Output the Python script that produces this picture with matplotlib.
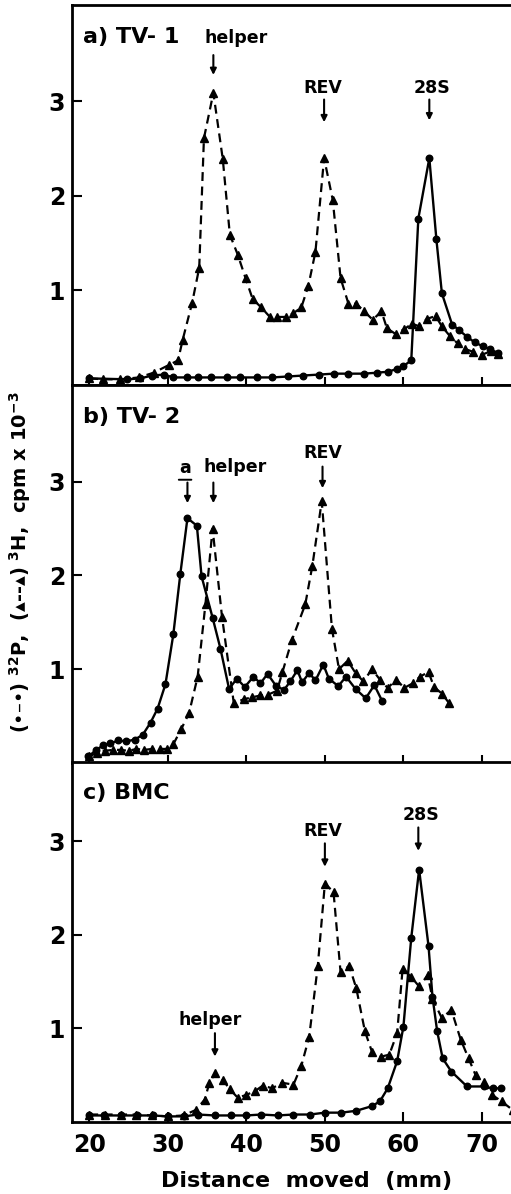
import matplotlib
matplotlib.use("Agg")
import matplotlib.pyplot as plt

plt.rcParams['font.family'] = ['DejaVu Sans']
plt.rcParams['font.weight'] = 'bold'
plt.rcParams['mathtext.default'] = 'bf'

# panel a) TV-1
a_h_x = [20.0, 21.8, 23.9, 26.3, 28.2, 30.1, 31.3, 31.9, 33.1, 34.0, 34.6, 35.8, 37.0, 37.9, 38.9,
         39.9, 40.8, 41.9, 43.0, 43.9, 45.0, 46.0, 47.0, 47.9, 48.8, 49.9, 51.0, 52.0, 53.0, 54.0,
         55.0, 56.1, 57.2, 57.9, 59.0, 60.1, 61.1, 62.0, 63.0, 64.1, 64.9, 65.9, 66.9, 67.9, 68.9,
         70.0, 71.2, 72.0]
a_h_y = [0.07, 0.06, 0.06, 0.08, 0.13, 0.21, 0.26, 0.48, 0.87, 1.24, 2.61, 3.09, 2.39, 1.59, 1.38,
         1.13, 0.91, 0.82, 0.72, 0.72, 0.72, 0.76, 0.82, 1.05, 1.41, 2.40, 1.96, 1.13, 0.86, 0.86,
         0.78, 0.69, 0.78, 0.60, 0.54, 0.59, 0.65, 0.62, 0.70, 0.73, 0.62, 0.52, 0.44, 0.38, 0.35,
         0.32, 0.36, 0.33]
a_p_x = [20.0, 24.8, 26.5, 28.0, 29.5, 30.7, 32.4, 33.9, 35.5, 37.5, 39.2, 41.4, 43.3, 45.3, 47.2,
         49.2, 51.1, 53.0, 55.0, 56.6, 58.0, 59.2, 60.0, 61.0, 61.9, 63.3, 64.2, 64.9, 66.2, 67.1,
         68.1, 69.1, 70.1, 71.0, 72.0]
a_p_y = [0.07, 0.06, 0.07, 0.10, 0.11, 0.08, 0.08, 0.08, 0.08, 0.08, 0.08, 0.08, 0.08, 0.09, 0.10,
         0.11, 0.12, 0.12, 0.12, 0.13, 0.14, 0.17, 0.20, 0.26, 1.76, 2.40, 1.54, 0.97, 0.64, 0.58,
         0.51, 0.45, 0.41, 0.38, 0.34]

# panel b) TV-2
b_h_x = [20.0, 21.0, 22.0, 23.0, 24.0, 25.0, 26.0, 27.0, 28.0, 29.0, 29.9, 30.7, 31.7, 32.7, 33.8,
         34.8, 35.7, 36.9, 38.4, 39.7, 40.7, 41.8, 42.8, 43.9, 44.6, 45.8, 47.5, 48.4, 49.6, 50.9,
         51.8, 52.9, 53.9, 54.9, 56.0, 57.0, 58.0, 59.1, 60.1, 61.2, 62.1, 63.2, 63.9, 64.9, 65.8]
b_h_y = [0.07, 0.11, 0.13, 0.14, 0.14, 0.13, 0.15, 0.14, 0.15, 0.15, 0.15, 0.20, 0.36, 0.53, 0.92,
         1.70, 2.50, 1.56, 0.64, 0.68, 0.70, 0.72, 0.73, 0.77, 0.97, 1.31, 1.69, 2.10, 2.79, 1.43,
         1.00, 1.09, 0.96, 0.87, 1.00, 0.89, 0.80, 0.89, 0.80, 0.85, 0.92, 0.97, 0.81, 0.74, 0.64]
b_p_x = [19.9, 20.9, 21.8, 22.7, 23.7, 24.7, 25.8, 26.8, 27.8, 28.7, 29.7, 30.7, 31.6, 32.5, 33.7,
         34.3, 35.7, 36.7, 37.8, 38.8, 39.8, 40.9, 41.8, 42.7, 43.8, 44.8, 45.6, 46.5, 47.1, 48.0,
         48.8, 49.8, 50.5, 51.7, 52.7, 53.9, 55.2, 56.3, 57.3]
b_p_y = [0.07, 0.14, 0.19, 0.21, 0.24, 0.23, 0.25, 0.30, 0.43, 0.58, 0.84, 1.37, 2.02, 2.61, 2.53,
         1.99, 1.55, 1.22, 0.79, 0.90, 0.81, 0.92, 0.85, 0.95, 0.82, 0.78, 0.87, 0.99, 0.86, 0.96,
         0.88, 1.05, 0.90, 0.82, 0.92, 0.79, 0.69, 0.83, 0.66]

# panel c) BMC
c_h_x = [20.0, 22.0, 24.0, 26.0, 28.0, 30.0, 32.0, 33.6, 34.7, 35.3, 36.0, 37.0, 37.9, 38.9, 40.0,
         41.1, 42.1, 43.3, 44.5, 46.0, 47.0, 48.0, 49.1, 50.0, 51.1, 52.0, 53.1, 54.0, 55.1, 56.0,
         57.2, 58.2, 59.2, 59.9, 61.0, 62.0, 63.1, 63.7, 64.9, 66.1, 67.3, 68.3, 69.2, 70.2, 71.3,
         72.5, 73.9]
c_h_y = [0.08, 0.08, 0.08, 0.08, 0.07, 0.06, 0.07, 0.13, 0.24, 0.42, 0.52, 0.45, 0.35, 0.26, 0.29,
         0.33, 0.39, 0.36, 0.42, 0.40, 0.60, 0.91, 1.67, 2.55, 2.46, 1.60, 1.67, 1.43, 0.97, 0.75,
         0.70, 0.72, 0.95, 1.64, 1.55, 1.45, 1.57, 1.32, 1.11, 1.20, 0.88, 0.68, 0.50, 0.43, 0.29,
         0.22, 0.13]
c_p_x = [20.0, 21.9, 24.0, 26.1, 28.1, 30.0, 32.1, 33.8, 36.0, 38.0, 40.0, 41.9, 44.0, 46.0, 48.1,
         50.0, 52.1, 54.0, 56.0, 57.0, 58.0, 59.2, 60.0, 61.0, 62.0, 63.2, 63.7, 64.3, 65.0, 66.1,
         68.1, 70.2, 71.4, 72.4]
c_p_y = [0.07, 0.07, 0.07, 0.07, 0.07, 0.06, 0.06, 0.08, 0.07, 0.07, 0.07, 0.08, 0.07, 0.08, 0.08,
         0.10, 0.10, 0.12, 0.17, 0.22, 0.36, 0.65, 1.02, 1.97, 2.70, 1.88, 1.34, 0.97, 0.68, 0.54,
         0.38, 0.38, 0.36, 0.36]

panel_titles = ['a) TV- 1', 'b) TV- 2', 'c) BMC']
panel_ytop = [4.02, 4.03, 3.85]
x_ticks = [20, 30, 40, 50, 60, 70]
y_ticks = [1, 2, 3]

# peak marks: (label, arrow x, arrow tail y, arrow tip y, text x, text y)
marks = [
    [('helper', 35.8, 3.49, 3.28, 38.7, 3.67),
     ('REV', 49.9, 3.02, 2.78, 49.8, 3.14),
     ('28S', 63.3, 3.02, 2.80, 63.7, 3.14)],
    [('a', 32.5, 2.99, 2.77, 32.2, 3.15),
     ('helper', 35.8, 2.99, 2.77, 38.6, 3.16),
     ('REV', 49.7, 3.16, 2.93, 49.7, 3.30)],
    [('helper', 36.0, 0.95, 0.70, 35.4, 1.09),
     ('REV', 50.0, 2.98, 2.73, 49.7, 3.11),
     ('28S', 61.9, 3.15, 2.90, 62.3, 3.28)],
]

data = [(a_h_x, a_h_y, a_p_x, a_p_y), (b_h_x, b_h_y, b_p_x, b_p_y), (c_h_x, c_h_y, c_p_x, c_p_y)]

fig = plt.figure(figsize=(5.11, 11.94), dpi=100)
H = 1194.0
boxes = [(5, 385), (385, 763), (762, 1122)]
left = 72 / 511

for i, ((top, bot), (hx, hy, px, py)) in enumerate(zip(boxes, data)):
    ax = fig.add_axes([left, 1 - bot / H, 1 - left, (bot - top) / H])
    ax.plot(hx, hy, color='black', lw=1.6, ls=(0, (4, 2.5)), marker='^', ms=5.6)
    ax.plot(px, py, color='black', lw=1.7, marker='o', ms=4.7)
    ax.set_xlim(17.8, 73.7)
    ax.set_ylim(0, panel_ytop[i])
    ax.set_xticks(x_ticks)
    ax.set_yticks(y_ticks)
    ax.spines['right'].set_visible(False)
    for s in ['left', 'top', 'bottom']:
        ax.spines[s].set_linewidth(2)
    ax.tick_params(axis='y', direction='in', length=7, width=1.5, labelsize=17, pad=5)
    if i < 2:
        ax.tick_params(axis='x', direction='inout', length=12, width=1.5, labelbottom=False)
    else:
        ax.tick_params(axis='x', direction='in', length=7, width=1.5, labelsize=17, pad=8)
    ax.text(0.025, 0.915, panel_titles[i], transform=ax.transAxes, fontsize=16,
            fontweight='bold', va='center', ha='left')
    for lab, x, y0, y1, tx, ty in marks[i]:
        ax.annotate('', xy=(x, y1), xytext=(x, y0),
                    arrowprops=dict(arrowstyle='-|>', lw=1.5, color='black',
                                    mutation_scale=9, shrinkA=0, shrinkB=0))
        ax.text(tx, ty, lab, fontsize=12.5, fontweight='bold', ha='center', va='center')
        if lab == 'a':
            ax.annotate('', xy=(tx + 0.8, ty - 0.13), xytext=(tx - 0.8, ty - 0.13),
                        arrowprops=dict(arrowstyle='-', lw=1.4, color='black',
                                        shrinkA=0, shrinkB=0))

fig.text(307 / 511, 1 - 1181 / H, 'Distance  moved  (mm)', fontsize=16, fontweight='bold',
         ha='center', va='center')
fig.text(20 / 511, 1 - 562 / H,
         r'(•–•) $^{32}$P,  (▴--▴) $^{3}$H,  cpm x 10$^{-3}$',
         rotation=90, fontsize=14, fontweight='bold', ha='center', va='center')

fig.savefig('out.png', dpi=100)
